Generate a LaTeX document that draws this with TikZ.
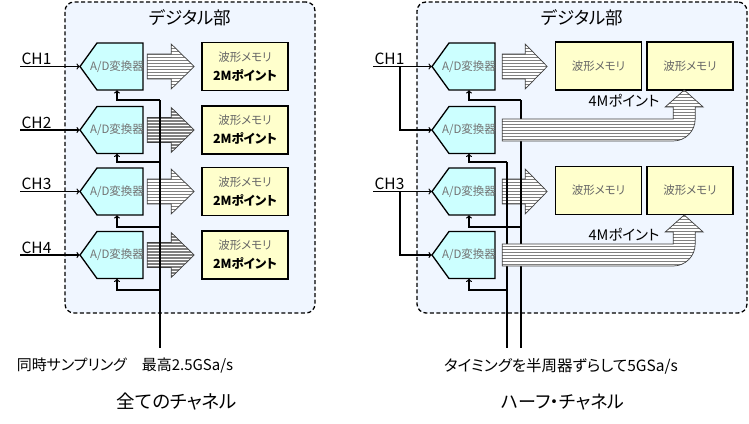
\documentclass[tikz,border=0pt]{standalone}
\usepackage{fontspec}
\setmainfont{Noto Sans CJK JP}[RawFeature=+palt]
\definecolor{panelbg}{RGB}{240,246,255}
\definecolor{adcfill}{RGB}{204,255,255}
\definecolor{memfill}{RGB}{255,255,204}
\tikzset{
  panel/.style={draw, line width=1.3pt, dash pattern=on 4pt off 2.5pt, rounded corners=9pt, fill=panelbg},
  adcbox/.style={draw, line width=1.3pt, fill=adcfill},
  adc/.style={minimum width=63pt, minimum height=47pt, inner sep=0pt, text=black!55, font=\fontsize{11.5}{13}\selectfont},
  mem/.style={draw, line width=1.3pt, fill=memfill, minimum width=86pt, minimum height=48pt, inner sep=0pt,
    align=center, font=\fontsize{11.5}{19}\selectfont},
  wire/.style={line width=1.2pt},
  hatch/.style={draw=black!75, line width=0.7pt, fill=white,
    path picture={\foreach \k in {1.5,4.5,...,60}
      \draw[black!50, line width=1.3pt] ([yshift=-\k pt]path picture bounding box.north west) -- ([yshift=-\k pt]path picture bounding box.north east);}},
}
\newcommand{\memname}{{\color{black!60}波形メモリ}}
\newcommand{\adctext}{\makebox[0pt]{\hspace*{11pt}A/D変換器}}
\begin{document}
\begin{tikzpicture}[x=1pt, y=-1pt]
	\useasboundingbox (0,0) rectangle (749,423);
	% all channels
	\node[panel, minimum width=250pt, minimum height=311pt] (digL) at (190,157.5) {};
	\node[font=\fontsize{17.5}{20}\selectfont] (titleL) at (190,18) {デジタル部};
	\foreach \i/\y in {1/66.5, 2/130, 3/191.5, 4/255} {
		\draw[adcbox] (80,\y) -- ++(17,-23.5) -- ++(46,0) -- ++(0,47) -- ++(-46,0) -- cycle;
		\node[adc] (adcL\i) at (111.5,\y) {\adctext};
		\node[mem] (memL\i) at (245,\y) {\memname\\{\fontsize{12.5}{19}\selectfont\bfseries 2Mポイント}};
		\draw[hatch] ([xshift=4pt]adcL\i.east) ++(0,-12.5) -- ++(24,0) -- ++(0,-10) -- ++(23,22.5) -- ++(-23,22.5) -- ++(0,-10) -- ++(-24,0) -- cycle;
		\draw[wire, ->] (20,\y) node[anchor=south west, inner sep=1pt, font=\fontsize{15.5}{17}\selectfont] (chL\i) {CH\i} -- (adcL\i.west);
	}
	\coordinate (clkLtop) at (160,100);
	\coordinate (clkL) at (160,348);
	\draw[wire] (clkLtop) -- (clkL);
	\foreach \i/\c in {1/100, 2/162, 3/227, 4/290}
		\draw[wire, ->] (clkL |- 0,\c) -| ([xshift=5.5pt]adcL\i.south);
	\node[font=\fontsize{15}{17}\selectfont] (rateL) at (125,366) {同時サンプリング　最高2.5GSa/s};
	\node[font=\fontsize{18.5}{20}\selectfont] (nameL) at (177,402) {全てのチャネル};

	% half channels
	\node[panel, minimum width=330pt, minimum height=311pt] (digR) at (582,157.5) {};
	\node[font=\fontsize{17.5}{20}\selectfont] (titleR) at (582,18) {デジタル部};
	\foreach \i/\y in {1/66.5, 2/130, 3/191.5, 4/255} {
		\draw[adcbox] (432,\y) -- ++(17,-23.5) -- ++(46,0) -- ++(0,47) -- ++(-46,0) -- cycle;
		\node[adc] (adcR\i) at (463.5,\y) {\adctext};
	}
	\node[mem] (memRA1) at (598.5,66) {\memname};
	\node[mem] (memRB1) at (690,66) {\memname};
	\node[mem] (memRA2) at (598.5,190.5) {\memname};
	\node[mem] (memRB2) at (690,190.5) {\memname};
	\foreach \i in {1,3}
		\draw[hatch] ([xshift=7pt]adcR\i.east) ++(0,-12.5) -- ++(23,0) -- ++(0,-10) -- ++(22,22.5) -- ++(-22,22.5) -- ++(0,-10) -- ++(-23,0) -- cycle;
	\coordinate (clkRa) at (521,348);
	\coordinate (clkRb) at (507,348);
	\draw[wire] (521,100) -- (clkRa);
	\draw[wire] (507,162) -- (clkRb);
	\draw[wire, ->] (clkRa |- 0,100) -| ([xshift=5.5pt]adcR1.south);
	\draw[wire, ->] (clkRb |- 0,162) -| ([xshift=5.5pt]adcR2.south);
	\draw[wire, ->] (clkRa |- 0,227) -| ([xshift=5.5pt]adcR3.south);
	\draw[wire, ->] (clkRb |- 0,290) -| ([xshift=5.5pt]adcR4.south);
	\foreach \i in {2,4}
		\draw[hatch] ([xshift=7pt]adcR\i.east) ++(0,-11) -- ++(171,0) -- ++(0,-12) -- ++(-8,0) -- ++(19,-17) -- ++(19,17) -- ++(-8,0) -- ++(0,12) arc (0:90:22) -- ++(-171,0) -- cycle;
	\node[font=\fontsize{14.5}{16}\selectfont] (ptR1) at (624,101) {4Mポイント};
	\node[font=\fontsize{14.5}{16}\selectfont] (ptR2) at (624,235) {4Mポイント};
	\coordinate (brR1) at (400,66.5);
	\coordinate (brR3) at (400,191.5);
	\draw[wire, ->] (373,66.5) node[anchor=south west, inner sep=1pt, font=\fontsize{15.5}{17}\selectfont] (chR1) {CH1} -- (adcR1.west);
	\draw[wire, ->] (brR1) |- (adcR2.west);
	\draw[wire, ->] (373,191.5) node[anchor=south west, inner sep=1pt, font=\fontsize{15.5}{17}\selectfont] (chR3) {CH3} -- (adcR3.west);
	\draw[wire, ->] (brR3) |- (adcR4.west);
	\node[font=\fontsize{15.5}{17}\selectfont] (rateR) at (561,366) {タイミングを半周器ずらして5GSa/s};
	\node[font=\fontsize{18}{20}\selectfont] (nameR) at (563,402) {ハーフ・チャネル};
\end{tikzpicture}
\end{document}
